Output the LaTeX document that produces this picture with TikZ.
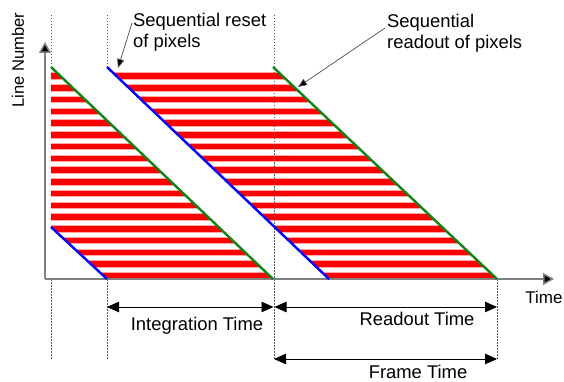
\documentclass[tikz,border=0pt]{standalone}
\usepackage{fontspec}
\setmainfont{Liberation Sans}
\usetikzlibrary{arrows.meta}
\definecolor{stripered}{RGB}{255,0,0}
\definecolor{stripepink}{RGB}{255,170,170}
\definecolor{linegreen}{RGB}{20,130,20}
\definecolor{lineblue}{RGB}{0,0,255}
\definecolor{axisgray}{RGB}{128,128,128}
\tikzset{
  lbl/.style={inner sep=0pt, font=\fontsize{18.4}{21}\selectfont},
  axisline/.style={draw=axisgray, line width=1.5pt, -{Triangle[length=11pt,width=12pt,fill=black]}},
  guide/.style={draw=black!65, line width=0.6pt, dash pattern=on 1.5pt off 1.5pt},
  dimarrow/.style={draw=black, line width=0.8pt, {Triangle[length=12pt,width=10.5pt]}-{Triangle[length=12pt,width=10.5pt]}},
  callout/.style={draw=black!70, line width=0.7pt, -{Triangle[length=9pt,width=7pt,fill=black]}},
  greenline/.style={draw=linegreen, line width=2.4pt},
  blueline/.style={draw=lineblue, line width=2.4pt},
  stripeedge/.style={draw=stripepink, line width=7.5pt},
  stripe/.style={draw=stripered, line width=5.5pt}
}
\begin{document}
\begin{tikzpicture}[x=1pt,y=-1pt]
\useasboundingbox (0,0) rectangle (564,382);
% key points
\coordinate (gA1) at (51,67);
\coordinate (gA2) at (273,279);
\coordinate (bA1) at (107,67);
\coordinate (bA2) at (329,279);
\coordinate (gB1) at (273,67);
\coordinate (gB2) at (497,279);
\coordinate (bS1) at (51,227);
\coordinate (bS2) at (107,279);
% stripes region A
\begin{scope}
  \clip (gA1) -- (gA2) -- (bS2) -- (bS1) -- cycle;
  \foreach \k in {0,...,17} {
    \draw[stripeedge] (40,{276-\k*11.76}) -- (300,{276-\k*11.76});
    \draw[stripe] (40,{276-\k*11.76}) -- (300,{276-\k*11.76});
  }
\end{scope}
% stripes region B
\begin{scope}
  \clip (bA1) -- (gB1) -- (gB2) -- (bA2) -- cycle;
  \foreach \k in {0,...,17} {
    \draw[stripeedge] (100,{276-\k*11.76}) -- (510,{276-\k*11.76});
    \draw[stripe] (100,{276-\k*11.76}) -- (510,{276-\k*11.76});
  }
\end{scope}
% guide lines
\coordinate (d1t) at (51,15);  \coordinate (d1b) at (51,360); \coordinate (d1a) at (51,279);
\coordinate (d2t) at (107,15); \coordinate (d2b) at (107,360); \coordinate (d2a) at (107,279);
\coordinate (d3t) at (274,15); \coordinate (d3b) at (274,360);
\coordinate (d4a) at (497,279); \coordinate (d4b) at (497,360);
\draw[guide] (d1t) -- (gA1);
\draw[guide] (d1a) -- (d1b);
\draw[guide] (d2t) -- (bA1);
\draw[guide] (d2a) -- (d2b);
\draw[guide] (d3t) -- (d3b);
\draw[guide] (d4a) -- (d4b);
% axes
\coordinate (origin) at (45,279);
\coordinate (ytip) at (45,42);
\coordinate (xtip) at (554,279);
\draw[axisline] (origin) -- (ytip);
\draw[axisline] (origin) -- (xtip);
% sloped lines
\draw[greenline] (gA1) -- (gA2);
\draw[greenline] (gB1) -- (gB2);
\draw[blueline] (bA1) -- (bA2);
\draw[blueline] (bS1) -- (bS2);
% labels
\node[lbl, font=\fontsize{16.6}{20}\selectfont, rotate=90] (ylab) at (18,60) {Line Number};
\node[lbl, font=\fontsize{17}{20}\selectfont] (xlab) at (544,297) {Time};
\node[lbl, anchor=west, align=left] (resetlab) at (133,32.5) {Sequential reset\\of pixels};
\node[lbl, anchor=west, align=left] (readlab) at (387,33) {Sequential\\readout of pixels};
\node[lbl] (intlab) at (197,326) {Integration Time};
\node[lbl] (rolab) at (417,319) {Readout Time};
\node[lbl] (frlab) at (418,372) {Frame Time};
% callouts
\coordinate (rstart) at (132,23);
\coordinate (rtip) at (118,68);
\coordinate (ostart) at (385,28);
\coordinate (otip) at (298,87);
\draw[callout] (rstart) -- (rtip);
\draw[callout] (ostart) -- (otip);
% dimension arrows
\coordinate (i1) at (107,307); \coordinate (i2) at (273.5,307);
\coordinate (r1) at (274.5,307); \coordinate (r2) at (497,307);
\coordinate (f1) at (274,359); \coordinate (f2) at (497,359);
\draw[dimarrow] (i1) -- (i2);
\draw[dimarrow] (r1) -- (r2);
\draw[dimarrow] (f1) -- (f2);
\end{tikzpicture}
\end{document}
